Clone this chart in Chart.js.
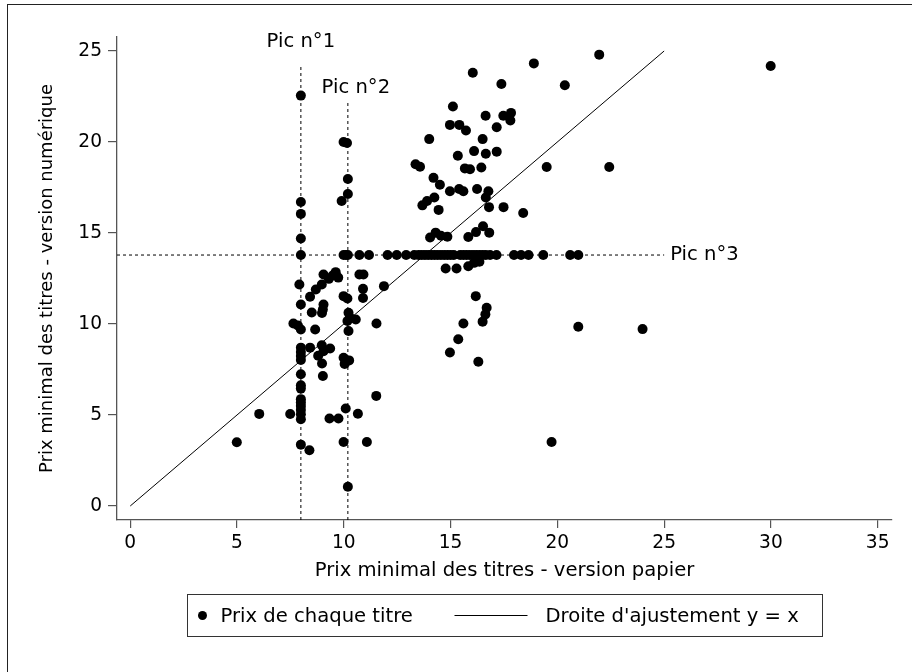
<!DOCTYPE html>
<html>
<head>
<meta charset="utf-8">
<script src="https://cdn.jsdelivr.net/npm/chart.js@4.4.1/dist/chart.umd.min.js"></script>
<style>
  html, body { margin: 0; padding: 0; background: #fff; }
  #wrap { width: 912px; height: 672px; }
</style>
</head>
<body>
<div id="wrap"><canvas id="chart" width="912" height="672"></canvas></div>
<script>
// --- data (paper price -> digital price) ---
const paperPrice = [
  // peak 1 column
  7.99, 7.99, 7.99, 7.99, 7.99, 7.92, 7.99, 7.64, 7.85, 7.99, 7.99, 7.99, 7.99, 7.99, 7.99, 7.99,
  7.99, 7.99, 7.99, 7.99, 7.99, 7.99, 7.99, 7.99,
  // peak 2 column
  9.99, 10.15, 10.19, 10.19, 9.9, 9.99, 10.1, 10.19, 9.99, 10.17, 10.22, 10.29, 10.17, 10.56, 10.22,
  9.99, 10.25, 10.04, 10.09, 9.99, 10.19,
  // between the two peaks
  8.42, 8.69, 8.97, 9.05, 9.3, 9.48, 9.62, 9.74, 8.5, 9.05, 9.02, 8.98, 8.66, 8.42, 8.97, 9.05,
  9.36, 8.8, 8.98, 9.02, 9.33, 9.75, 8.39, 7.49, 6.04, 4.99, 10.73, 10.92, 10.9, 10.9, 11.88,
  11.53, 11.52, 10.66, 11.08,
  // peak 3 row
  10.73, 11.18, 12.05, 12.48, 12.92, 13.3, 13.5, 13.65, 13.8, 13.95, 14.1, 14.25, 14.4, 14.55,
  14.7, 14.85, 15.0, 15.15, 15.45, 15.6, 15.75, 15.9, 16.05, 16.2, 16.35, 16.5, 16.65, 16.85,
  17.15, 17.97, 18.3, 18.65, 19.34, 20.6, 20.98,
  14.77, 15.28, 15.83, 16.1, 16.35,
  // upper cluster
  14.04, 14.3, 14.55, 14.85, 15.83, 16.19, 16.52, 16.81, 13.68, 13.9, 14.24, 14.44, 14.97, 15.4,
  15.6, 16.24, 16.77, 16.65, 16.8, 17.48, 18.4, 14.2, 14.5, 13.36, 13.57, 15.67, 15.91, 16.44,
  19.5, 22.43, 15.34, 16.1, 16.65, 17.16, 14.0, 16.5, 14.97, 15.41, 15.72, 17.16, 16.64, 17.47,
  17.83, 17.8, 15.11, 16.04, 17.38, 20.35, 18.9, 21.96, 29.99,
  // lower right
  16.18, 16.69, 16.63, 16.5, 15.6, 15.36, 14.97, 16.3, 20.98, 23.99, 19.73
];
const digitalPrice = [
  22.55, 16.7, 16.05, 14.7, 13.79, 12.17, 11.07, 10.03, 9.92, 9.7, 8.7, 8.46, 8.24, 8.02, 7.24, 6.63,
  6.45, 5.87, 5.69, 5.5, 5.28, 5.04, 4.77, 3.37,
  20.0, 19.95, 17.97, 17.14, 16.76, 13.79, 13.79, 13.79, 11.53, 11.4, 10.62, 10.35, 10.16, 10.25, 9.62,
  8.15, 8.0, 7.8, 5.36, 3.52, 1.06,
  11.5, 11.9, 12.17, 12.72, 12.48, 12.66, 12.85, 12.55, 10.63, 11.07, 10.8, 10.6, 9.7, 8.7, 8.83, 8.5,
  8.65, 8.26, 7.83, 7.14, 4.81, 4.81, 3.06, 5.05, 5.06, 3.5, 12.72, 12.72, 11.93, 11.43, 12.08,
  10.03, 6.05, 5.07, 3.52,
  13.79, 13.79, 13.79, 13.79, 13.79, 13.79, 13.79, 13.79, 13.79, 13.79, 13.79, 13.79, 13.79, 13.79,
  13.79, 13.79, 13.79, 13.79, 13.79, 13.79, 13.79, 13.79, 13.79, 13.79, 13.79, 13.79, 13.79, 13.79,
  13.79, 13.79, 13.79, 13.79, 13.79, 13.79, 13.79,
  13.05, 13.05, 13.17, 13.36, 13.42,
  14.75, 15.02, 14.85, 14.79, 14.78, 15.05, 15.37, 15.02, 16.52, 16.76, 16.95, 16.27, 17.29, 17.42,
  17.29, 17.42, 17.29, 16.95, 16.42, 16.42, 16.1, 18.03, 17.65, 18.78, 18.64, 18.55, 18.5, 18.6,
  18.63, 18.63, 19.24, 19.5, 19.35, 19.47, 20.16, 20.16, 20.94, 20.94, 20.63, 20.81, 21.44, 21.44,
  21.6, 21.18, 21.95, 23.81, 23.19, 23.12, 24.32, 24.8, 24.18,
  11.53, 10.89, 10.53, 10.13, 10.03, 9.16, 8.43, 7.93, 9.85, 9.72, 3.52
];

// reference line y = x
const fitLineX = [0, 25];

// price peaks marked with dashed lines
const peakLabels = ['Pic n°1', 'Pic n°2', 'Pic n°3'];
const peak1 = { x: 7.99, top: 24.23 };
const peak2 = { x: 10.19, top: 22.14 };
const peak3 = { y: 13.79, end: 25.0 };

// axes
const xTicks = [0, 5, 10, 15, 20, 25, 30, 35];
const yTicks = [0, 5, 10, 15, 20, 25];
const xRange = [-0.62, 35.67];
const yRange = [-0.77, 25.77];

const seriesLabels = ['Prix de chaque titre', "Droite d'ajustement y = x"];
const xTitle = 'Prix minimal des titres - version papier';
const yTitle = 'Prix minimal des titres - version numérique';

const FONT = "'DejaVu Sans', 'Liberation Sans', Arial, sans-serif";
const TEXT_SIZE = 19.6;
const AXIS_COLOR = '#555';

const points = paperPrice.map((x, i) => ({ x: x, y: digitalPrice[i] }));

// frame, peak labels and the boxed legend
const decorPlugin = {
    id: 'decor',
    beforeDraw(chart) {
        const ctx = chart.ctx;
        ctx.save();
        ctx.fillStyle = '#fff';
        ctx.fillRect(0, 0, chart.width, chart.height);
        ctx.strokeStyle = '#222';
        ctx.lineWidth = 1;
        ctx.strokeRect(7.5, 4.5, chart.width + 10, chart.height + 10);
        ctx.restore();
    },
    afterDraw(chart) {
        const ctx = chart.ctx;
        const xs = chart.scales.x, ys = chart.scales.y;
        const area = chart.chartArea;
        ctx.save();
        ctx.fillStyle = '#000';
        ctx.font = TEXT_SIZE + 'px ' + FONT;
        ctx.textBaseline = 'alphabetic';

        // peak labels
        ctx.textAlign = 'center';
        ctx.fillText(peakLabels[0], xs.getPixelForValue(peak1.x), ys.getPixelForValue(peak1.top) - 18);
        ctx.fillText(peakLabels[1], xs.getPixelForValue(peak2.x) + 8, ys.getPixelForValue(peak2.top) - 10);
        ctx.textAlign = 'left';
        ctx.fillText(peakLabels[2], xs.getPixelForValue(peak3.end) + 6, ys.getPixelForValue(peak3.y) + 5);

        // legend box
        const cx = (area.left + area.right) / 2;
        const w = 635, h = 42;
        const left = Math.round(cx - w / 2) + 0.5;
        const top = area.bottom + 74.5;
        ctx.strokeStyle = '#333';
        ctx.lineWidth = 1;
        ctx.strokeRect(left, top, w, h);
        const my = top + h / 2;
        ctx.beginPath();
        ctx.arc(left + 15, my, 4.5, 0, Math.PI * 2);
        ctx.fill();
        ctx.textBaseline = 'middle';
        ctx.fillText(seriesLabels[0], left + 33, my + 1);
        ctx.beginPath();
        ctx.strokeStyle = '#000';
        ctx.moveTo(left + 267, my);
        ctx.lineTo(left + 340, my);
        ctx.stroke();
        ctx.fillText(seriesLabels[1], left + 358, my + 1);
        ctx.restore();
    }
};

function axisOptions(range, ticks, title, horizontal) {
    return {
        type: 'linear',
        min: range[0],
        max: range[1],
        afterBuildTicks: (scale) => { scale.ticks = ticks.map(v => ({ value: v })); },
        afterFit: (scale) => {
            if (horizontal) scale.height = 70;
            else scale.width = 109;
        },
        grid: { drawOnChartArea: false, tickLength: horizontal ? 8 : 9, color: AXIS_COLOR, lineWidth: 1.2 },
        border: { display: true, color: AXIS_COLOR, width: 1.3 },
        ticks: { color: '#000', font: { family: FONT, size: 18.6 }, padding: horizontal ? 4 : 6, maxRotation: 0 },
        title: {
            display: true,
            text: title,
            color: '#000',
            font: { family: FONT, size: horizontal ? TEXT_SIZE : 18 },
            padding: horizontal ? { top: 0, bottom: 7 } : { top: 29, bottom: 0 }
        }
    };
}

new Chart(document.getElementById('chart'), {
    type: 'scatter',
    data: {
        datasets: [
            {
                label: seriesLabels[0],
                data: points,
                pointRadius: 5,
                pointBackgroundColor: '#000',
                pointBorderWidth: 0,
                showLine: false
            },
            {
                label: seriesLabels[1],
                data: fitLineX.map(v => ({ x: v, y: v })),
                showLine: true,
                borderColor: '#000',
                borderWidth: 1,
                pointRadius: 0
            },
            {
                label: peakLabels[0],
                data: [{ x: peak1.x, y: yRange[0] }, { x: peak1.x, y: peak1.top }],
                showLine: true, borderColor: '#000', borderWidth: 1, borderDash: [3, 3], pointRadius: 0
            },
            {
                label: peakLabels[1],
                data: [{ x: peak2.x, y: yRange[0] }, { x: peak2.x, y: peak2.top }],
                showLine: true, borderColor: '#000', borderWidth: 1, borderDash: [3, 3], pointRadius: 0
            },
            {
                label: peakLabels[2],
                data: [{ x: xRange[0], y: peak3.y }, { x: peak3.end, y: peak3.y }],
                showLine: true, borderColor: '#000', borderWidth: 1, borderDash: [3, 3], pointRadius: 0
            }
        ]
    },
    options: {
        responsive: false,
        animation: false,
        layout: { padding: { top: 37, left: 8, right: 20, bottom: 82 } },
        plugins: { legend: { display: false }, tooltip: { enabled: false } },
        scales: {
            x: axisOptions(xRange, xTicks, xTitle, true),
            y: axisOptions(yRange, yTicks, yTitle, false)
        }
    },
    plugins: [decorPlugin]
});
</script>
</body>
</html>
